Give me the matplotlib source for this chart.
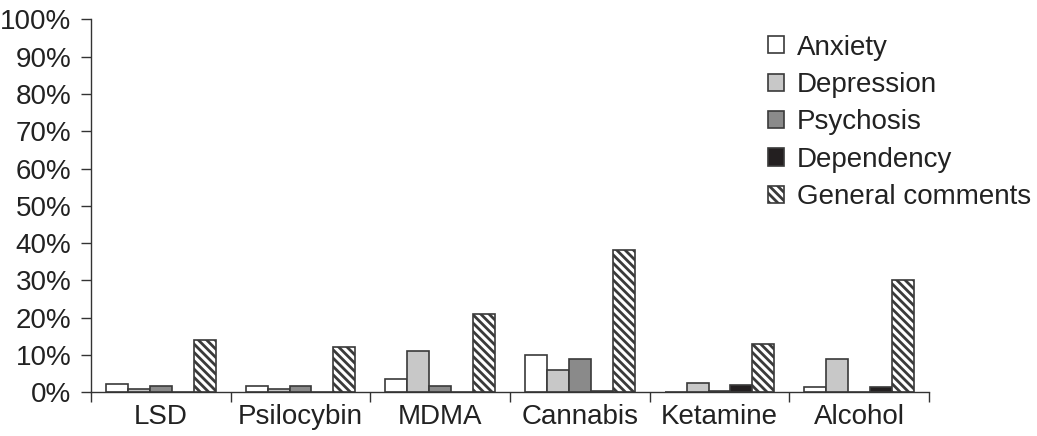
import numpy as np
import matplotlib
matplotlib.use("Agg")
import matplotlib.pyplot as plt
from matplotlib.ticker import FixedLocator, PercentFormatter

plt.rcParams['font.family'] = ['Liberation Sans', 'DejaVu Sans']
plt.rcParams['hatch.linewidth'] = 2.0
plt.rcParams['hatch.color'] = '#111111'

drugs = ["LSD", "Psilocybin", "MDMA", "Cannabis", "Ketamine", "Alcohol"]
series = ["Anxiety", "Depression", "Psychosis", "Dependency", "General comments"]

anxiety = [2.2, 1.6, 3.6, 10.0, 0.0, 1.5]
depression = [1.0, 1.0, 11.0, 6.0, 2.6, 9.0]
psychosis = [1.6, 1.6, 1.6, 9.0, 0.5, 0.0]
dependency = [0.0, 0.0, 0.0, 0.5, 2.0, 1.5]
general = [14.0, 12.1, 21.0, 38.3, 12.9, 30.2]

values = [anxiety, depression, psychosis, dependency, general]
colors = ["white", "#c8c8c8", "#8a8a8a", "#231f20", "white"]
hatches = [None, None, None, None, "\\" * 4]

fig = plt.figure(figsize=(10.37, 4.36), dpi=100)
ax = fig.add_axes([0.0878, 0.1, 0.808, 0.8557])

x = np.arange(len(drugs))
w = 0.157
for i, (name, vals) in enumerate(zip(series, values)):
    ax.bar(x + (i - 2) * w, vals, width=w, color=colors[i], edgecolor="#3a3a3a",
           linewidth=1.2, hatch=hatches[i], label=name)

ax.set_xlim(-0.5, len(drugs) - 0.5)
ax.set_ylim(0, 100)
ax.yaxis.set_major_locator(FixedLocator(np.arange(0, 101, 10)))
ax.yaxis.set_major_formatter(PercentFormatter(decimals=0))

ax.xaxis.set_major_locator(FixedLocator(np.arange(-0.5, len(drugs), 1.0)))
ax.xaxis.set_minor_locator(FixedLocator(x))
ax.set_xticklabels([], minor=False)
ax.set_xticklabels(drugs, minor=True)
ax.tick_params(axis="x", which="major", length=7, width=1, color="#333333")
ax.tick_params(axis="x", which="minor", length=0, pad=8, labelsize=20, labelcolor="#222222")
ax.tick_params(axis="y", length=7, width=1, color="#333333", labelsize=20, labelcolor="#222222", pad=7)

for s in ["top", "right"]:
    ax.spines[s].set_visible(False)
for s in ["left", "bottom"]:
    ax.spines[s].set_color("#333333")
    ax.spines[s].set_linewidth(1.0)

leg = ax.legend(loc="upper left", bbox_to_anchor=(0.808, 0.959), frameon=False,
                fontsize=20, handlelength=0.58, handleheight=0.58,
                handletextpad=0.45, labelspacing=0.41, borderaxespad=0, borderpad=0)
for t in leg.get_texts():
    t.set_color("#222222")

fig.savefig("out.png", dpi=100)
